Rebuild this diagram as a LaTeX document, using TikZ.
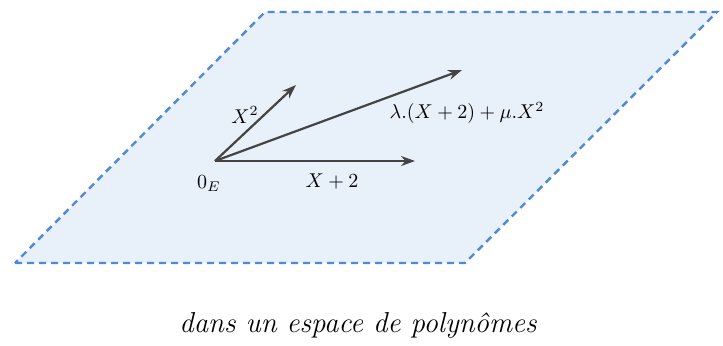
\documentclass[tikz,border=0pt]{standalone}
\usepackage{amsmath,amssymb}
\usetikzlibrary{arrows.meta}
\definecolor{planfill}{HTML}{E8F0FA}
\definecolor{planline}{HTML}{5089D8}
\definecolor{vecgray}{HTML}{444444}
\tikzset{
  plan/.style={draw=planline,fill=planfill,line width=1.2pt,dash pattern=on 3.5pt off 2.5pt},
  vect/.style={draw=vecgray,line width=1.1pt,-{Stealth[length=7pt,width=5pt]}},
}
\begin{document}
\begin{tikzpicture}[x=0.5pt,y=-0.5pt]%
\useasboundingbox (0,0) rectangle (723,345);

% le plan
\path[plan] (15,263) -- (465,263) -- (717,12) -- (265,12) -- cycle;

      \tikzstyle{every node}=[inner sep=0,outer sep=0]

\coordinate (O) at (215,161);
\coordinate (u) at (415,161);
\coordinate (v) at (296,85);
\coordinate (w) at (462,70);

\draw[vect] (O) -- (u);
\draw[vect] (O) -- (v);
\draw[vect] (O) -- (w);

\node (lO) at (209,184) {$0_E$};
\node (lu) at (332,181) {$X+2$};
\node (lv) at (245,115) {$X^2$};
\node (lw) at (467,113) {$\lambda.(X+2)+\mu.X^2$};

\node (titre) at (358,325) {\Large\itshape dans un espace de polyn\^omes};

\end{tikzpicture}
\end{document}
